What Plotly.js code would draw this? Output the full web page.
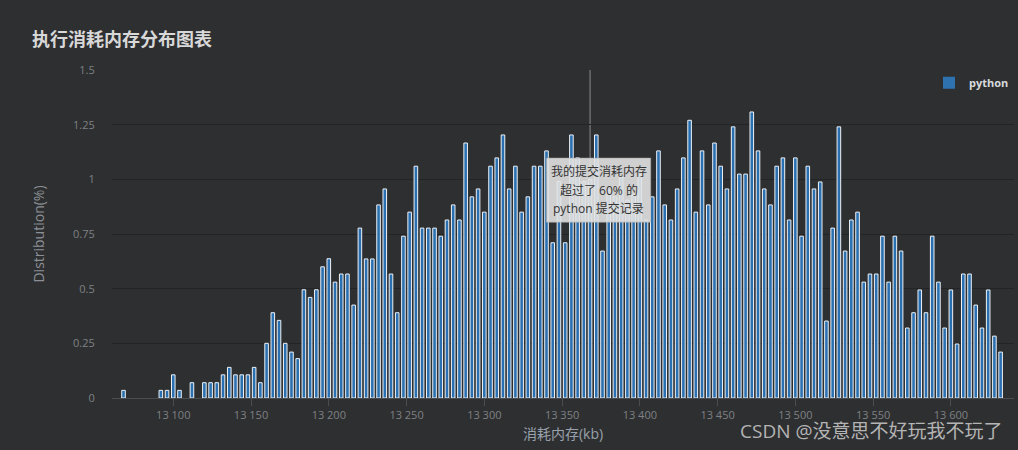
<!DOCTYPE html>
<html>
<head>
<meta charset="utf-8">
<script src="https://cdn.plot.ly/plotly-3.0.1.min.js"></script>
<style>html,body{margin:0;padding:0;background:#2e2f31;overflow:hidden}#c{width:1018px;height:450px}</style>
</head>
<body>
<div id="c"></div>
<script>
var memoryKb = [13068,13092,13096,13100,13104,13112,13120,13124,13128,13132,13136,13140,13144,13148,13152,13156,13160,13164,13168,13172,13176,13180,13184,13188,13192,13196,13200,13204,13208,13212,13216,13220,13224,13228,13232,13236,13240,13244,13248,13252,13256,13260,13264,13268,13272,13276,13280,13284,13288,13292,13296,13300,13304,13308,13312,13316,13320,13324,13328,13332,13336,13340,13344,13348,13352,13356,13360,13364,13368,13372,13376,13380,13384,13388,13392,13396,13400,13404,13408,13412,13416,13420,13424,13428,13432,13436,13440,13444,13448,13452,13456,13460,13464,13468,13472,13476,13480,13484,13488,13492,13496,13500,13504,13508,13512,13516,13520,13524,13528,13532,13536,13540,13544,13548,13552,13556,13560,13564,13568,13572,13576,13580,13584,13588,13592,13596,13600,13604,13608,13612,13616,13620,13624,13628,13632];
var distribution = [.035,.035,.035,.106,.035,.07,.07,.07,.07,.106,.14,.106,.106,.106,.14,.07,.25,.39,.355,.25,.21,.18,.495,.46,.495,.6,.637,.53,.567,.567,.425,.777,.636,.636,.883,.956,.567,.39,.74,.85,1.06,.777,.777,.777,.74,.814,.883,.814,1.166,.92,.956,.85,1.06,1.098,1.203,.956,1.06,.85,.92,1.06,1.06,1.13,.71,.99,.71,1.203,1.098,.99,1.0,1.203,.672,.95,.92,1.01,.905,.93,1.02,.814,.92,1.13,.883,.814,.956,1.098,1.27,.85,1.13,.883,1.166,1.06,.956,1.24,1.024,1.024,1.308,1.13,.956,.883,1.06,1.098,.814,1.098,.74,1.06,.956,.988,.352,.777,1.24,.672,.814,.85,.53,.567,.567,.74,.53,.74,.672,.32,.39,.494,.39,.74,.53,.32,.494,.247,.567,.567,.425,.32,.494,.283,.21];
var seriesName = "python";
var chartTitle = "执行消耗内存分布图表";
var xTitle = "消耗内存(kb)";
var yTitle = "Distribution(%)";
var yTicks = [0,.25,.5,.75,1,1.25,1.5];
var markerValue = 13368;
var tipCenter = 13373.5;
var tipLines = ["我的提交消耗内存","超过了 60% 的","python 提交记录"];
var tipYs = [1.035,.951,.867];
var watermark = "CSDN @没意思不好玩我不玩了";

var fam = '"Open Sans","Noto Sans CJK SC",sans-serif';
var traces = [
  {type:"bar",x:memoryKb,y:distribution,width:2.3,showlegend:false,hoverinfo:"x+y",
   marker:{color:"#2a6fb0",line:{color:"#eef2f6",width:1}}},
  {type:"scatter",mode:"markers",x:[null],y:[null],name:seriesName,
   marker:{symbol:"square",size:12,color:"#2f72b0"}}
];
var annos = tipLines.map(function(t,i){
  return {xref:"x",yref:"y",x:tipCenter,y:tipYs[i],text:t,showarrow:false,
          font:{family:fam,size:12,color:"#333"}};
});
annos.push({xref:"paper",yref:"paper",x:1.0,xanchor:"right",y:-0.102,yanchor:"middle",text:watermark,showarrow:false,
            borderpad:0,xshift:-11,font:{family:fam,size:19,color:"#b4b4b4"}});
var layout = {
  width:1018,height:450,
  paper_bgcolor:"#2e2f31",plot_bgcolor:"#2e2f31",
  margin:{l:112,r:4,t:70,b:52},
  separators:". ",
  font:{family:fam,color:"#7f8184"},
  title:{text:"<b>"+chartTitle+"</b>",x:32/1018,xanchor:"left",y:1-40/450,yanchor:"middle",
         font:{family:fam,size:18,color:"#d8d8d8"}},
  xaxis:{range:[13060.6,13640.6],tick0:13100,dtick:50,tickformat:",d",showgrid:false,zeroline:false,
         showline:true,linecolor:"#4a4c4f",linewidth:1,ticks:"outside",ticklen:7,tickcolor:"#4a4c4f",
         tickfont:{family:fam,size:11,color:"#7f8184"},
         title:{text:xTitle,standoff:7,font:{family:fam,size:14,color:"#98a2ac"}}},
  yaxis:{range:[0,1.5],tickmode:"array",tickvals:yTicks,ticktext:yTicks.map(String),
         gridcolor:"#232426",gridwidth:1,zeroline:false,ticks:"outside",ticklen:14,tickcolor:"rgba(0,0,0,0)",
         tickfont:{family:fam,size:11,color:"#7f8184"},
         title:{text:yTitle,standoff:25,font:{family:fam,size:14,color:"#8c9096"}}},
  legend:{x:1,xanchor:"right",y:1.005,yanchor:"top",bgcolor:"rgba(0,0,0,0)",
          font:{family:fam,size:11,color:"#d8dade",weight:700},itemclick:false},
  shapes:[
    {type:"line",layer:"below",xref:"x",yref:"y",x0:markerValue,x1:markerValue,y0:0,y1:1.5,line:{color:"#8d8d8d",width:1}},
    {type:"rect",layer:"above",xref:"x",yref:"y",x0:13340,x1:13407,y0:.804,y1:1.097,
     fillcolor:"rgba(226,226,226,.9)",line:{color:"rgba(170,170,170,.6)",width:1}}
  ],
  annotations:annos
};
Plotly.newPlot("c",traces,layout,{displayModeBar:false});
</script>
</body>
</html>
